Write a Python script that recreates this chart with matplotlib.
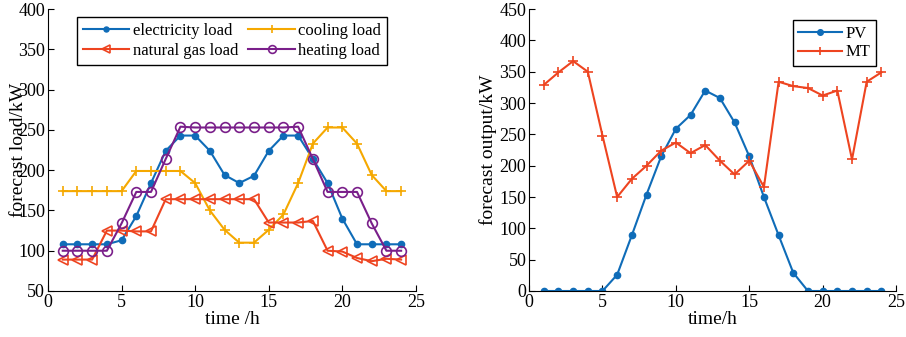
import numpy as np
import matplotlib
matplotlib.use("Agg")
import matplotlib.pyplot as plt

plt.rcParams['font.family'] = ['Liberation Serif', 'DejaVu Serif']

hours = np.arange(1, 25)

# left panel: load forecasts (kW)
elec_load = [108, 108, 108, 108, 113, 143, 184, 224, 243, 243, 224, 194,
             184, 193, 224, 243, 243, 214, 184, 140, 108, 108, 108, 108]
cool_load = [174, 174, 174, 174, 174, 199, 199, 199, 199, 184, 150, 126,
             110, 110, 126, 145, 184, 233, 253, 253, 233, 194, 174, 174]
gas_load = [89, 89, 89, 125, 125, 124, 124, 164, 164, 164, 164, 164,
            164, 164, 135, 135, 135, 137, 100, 99, 91, 87, 90, 89]
heat_load = [100, 100, 100, 100, 134, 173, 173, 214, 254, 253, 253, 253,
             253, 253, 253, 253, 254, 214, 173, 173, 173, 134, 100, 100]

# right panel: output forecasts (kW)
pv_out = [0, 0, 0, 0, 0, 26, 89, 154, 215, 259, 281, 320,
          308, 269, 215, 150, 89, 29, 0, 0, 0, 0, 0, 0]
mt_out = [329, 349, 367, 350, 248, 150, 179, 200, 224, 237, 220, 233,
          208, 186, 208, 166, 334, 327, 324, 312, 320, 210, 334, 349]

c_blue = '#0F6CB8'
c_yellow = '#F5A800'
c_red = '#EE4420'
c_purple = '#7A1F8A'

fig = plt.figure(figsize=(9.06, 3.37), dpi=100)
ax1 = fig.add_axes([0.053, 0.1365, 0.406, 0.8365])
ax2 = fig.add_axes([0.584, 0.1365, 0.405, 0.8365])

lw = 1.5
l_elec, = ax1.plot(hours, elec_load, '-o', color=c_blue, lw=lw, ms=4.5, label='electricity load')
l_cool, = ax1.plot(hours, cool_load, '-+', color=c_yellow, lw=lw, ms=7, mew=1.2, label='cooling load')
l_gas, = ax1.plot(hours, gas_load, '-<', color=c_red, lw=lw, ms=6.5, mfc='none', mew=1.2, label='natural gas load')
l_heat, = ax1.plot(hours, heat_load, '-o', color=c_purple, lw=lw, ms=7, mfc='none', mew=1.2, label='heating load')
ax1.set_xlim(0, 25)
ax1.set_ylim(50, 400)
ax1.set_xlabel('time /h', fontsize=14, labelpad=0)
ax1.set_ylabel('forecast load/kW', fontsize=14, labelpad=-6)
# column-wise fill so rows read: electricity, cooling / natural gas, heating
ax1.legend(handles=[l_elec, l_gas, l_cool, l_heat], ncol=2, loc='upper center',
           bbox_to_anchor=(0.5, 0.972), borderaxespad=0, fontsize=12,
           fancybox=False, edgecolor='black', framealpha=1, handlelength=2.8,
           columnspacing=0.6, handletextpad=0.2, borderpad=0.35, labelspacing=0.25,
           markerscale=0.8)

ax2.plot(hours, pv_out, '-o', color=c_blue, lw=lw, ms=4.5, label='PV')
ax2.plot(hours, mt_out, '-+', color=c_red, lw=lw, ms=7, mew=1.2, label='MT')
ax2.set_xlim(0, 25)
ax2.set_ylim(0, 450)
ax2.set_yticks(np.arange(0, 451, 50))
ax2.set_xlabel('time/h', fontsize=14, labelpad=0)
ax2.set_ylabel('forecast output/kW', fontsize=14, labelpad=2)
ax2.legend(loc='upper right', bbox_to_anchor=(0.945, 0.961), borderaxespad=0, fontsize=12,
           fancybox=False, edgecolor='black', framealpha=1, handlelength=2.6,
           handletextpad=0.2, borderpad=0.35, labelspacing=0.15, markerscale=0.9)

for ax in (ax1, ax2):
    ax.spines['top'].set_visible(False)
    ax.spines['right'].set_visible(False)
    ax.set_xticks(np.arange(0, 26, 5))
    ax.tick_params(direction='in', length=4, labelsize=13, pad=2)

fig.savefig('out.png', dpi=100)
